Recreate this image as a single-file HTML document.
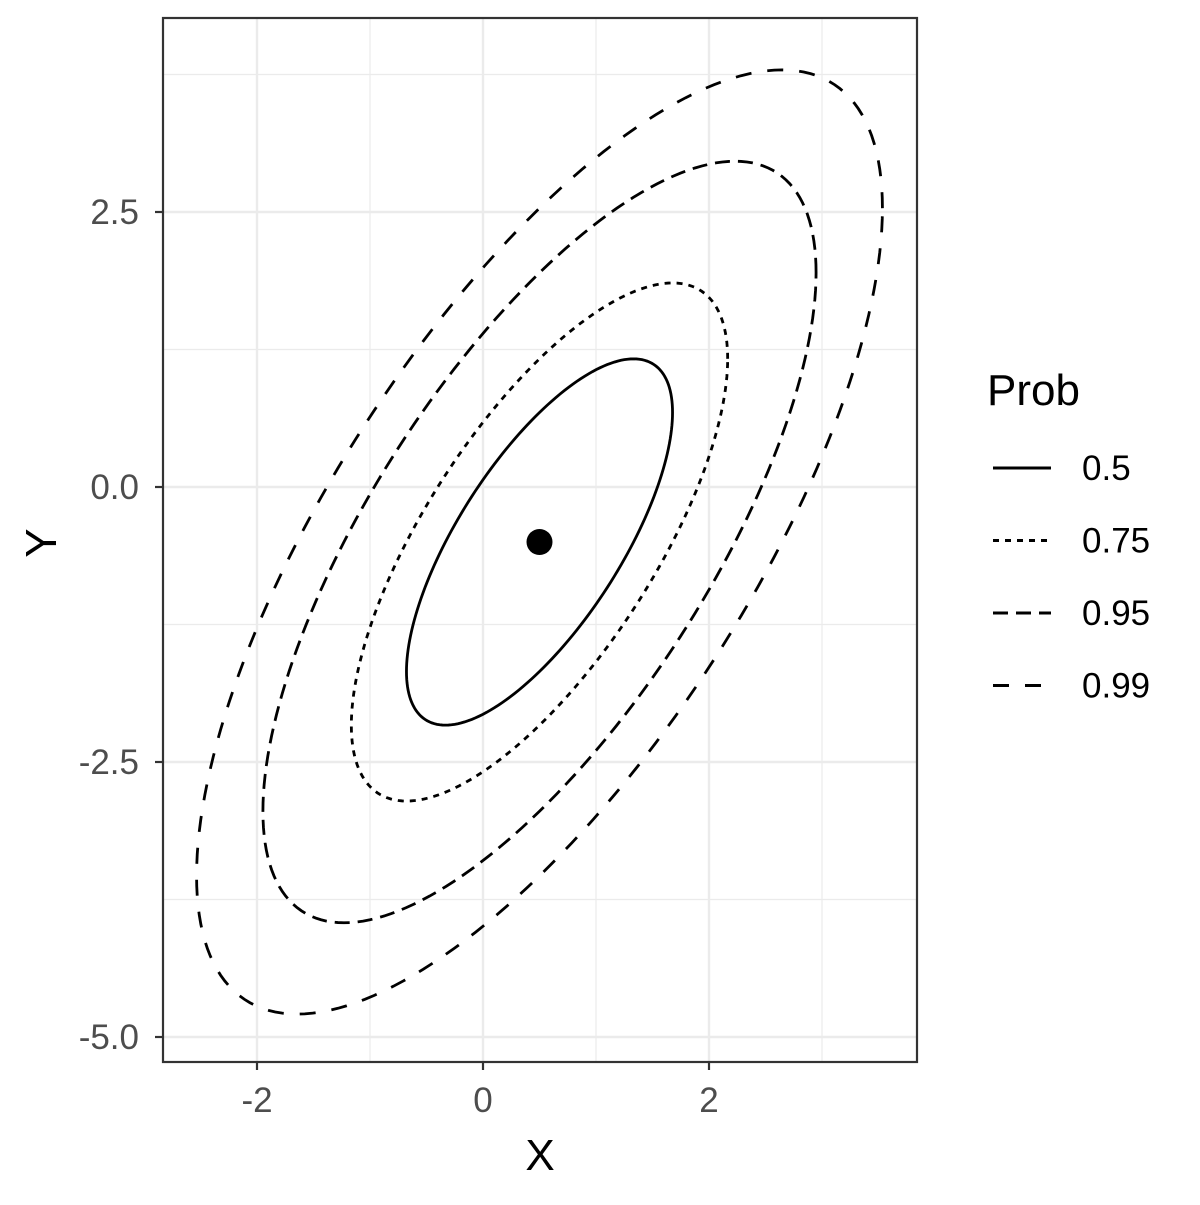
<!DOCTYPE html>
<html><head><meta charset="utf-8"><style>
body{margin:0;background:#fff}
text{font-family:"Liberation Sans",Arial,sans-serif}
</style></head><body>
<svg id="chart" width="1200" height="1200" viewBox="0 0 1200 1200" xmlns="http://www.w3.org/2000/svg">
<rect width="1200" height="1200" fill="#fff"/>
<g id="grid"></g>
<g id="marks"></g>
<rect x="163" y="18" width="754" height="1044" fill="none" stroke="#333" stroke-width="2.2"/>
<g id="axes"></g>
<text x="540" y="1170" font-size="44" text-anchor="middle">X</text>
<text x="56" y="543" font-size="44" text-anchor="middle" transform="rotate(-90 56 543)">Y</text>
<text x="987" y="405" font-size="44">Prob</text>
<g id="legend"></g>
</svg>
<script>
const levels = [0.5, 0.75, 0.95, 0.99];
const chiQuantiles = [1.386, 2.773, 5.991, 9.210];
const center = [0.5, -0.5];
const covariance = [1.0, 1.0, 2.0]; // sxx, sxy, syy
const xTicks = [-2, 0, 2];
const xMinor = [-1, 1, 3];
const yTicks = [2.5, 0, -2.5, -5];
const yMinor = [3.75, 1.25, -1.25, -3.75];
const legendLabels = ["0.5", "0.75", "0.95", "0.99"];

const dashes = ["", "6 6", "15 8", "16 16"];
const NS = "http://www.w3.org/2000/svg";
const sx = v => 483 + v * 113;
const sy = v => 487 - v * 110;
function mk(tag, attrs, parent){const e=document.createElementNS(NS,tag);for(const k in attrs)e.setAttribute(k,attrs[k]);parent.appendChild(e);return e;}
const grid = document.getElementById('grid');
xMinor.forEach(v=>{const l=mk('line',{x1:sx(v),x2:sx(v),y1:18,y2:1062,stroke:'#ebebeb','stroke-width':1.2},grid);

});
yMinor.forEach(v=>{const l=mk('line',{x1:163,x2:917,y1:sy(v),y2:sy(v),stroke:'#ebebeb','stroke-width':1.2},grid);

});
xTicks.forEach(v=>{const l=mk('line',{x1:sx(v),x2:sx(v),y1:18,y2:1062,stroke:'#ebebeb','stroke-width':2.4},grid);

});
yTicks.forEach(v=>{const l=mk('line',{x1:163,x2:917,y1:sy(v),y2:sy(v),stroke:'#ebebeb','stroke-width':2.4},grid);

});
const axes = document.getElementById('axes');
xTicks.forEach(v=>{const t=mk('line',{x1:sx(v),x2:sx(v),y1:1062,y2:1070,stroke:'#333','stroke-width':2.2},axes);


const tx=mk('text',{x:sx(v),y:1112,'font-size':35,fill:'#4d4d4d','text-anchor':'middle'},axes);tx.textContent=v;

});
yTicks.forEach(v=>{const t=mk('line',{x1:155,x2:163,y1:sy(v),y2:sy(v),stroke:'#333','stroke-width':2.2},axes);


const tx=mk('text',{x:139,y:sy(v)+12,'font-size':35,fill:'#4d4d4d','text-anchor':'end'},axes);tx.textContent=v.toFixed(1);

});
// Cholesky
const l11=Math.sqrt(covariance[0]), l21=covariance[1]/l11, l22=Math.sqrt(covariance[2]-l21*l21);
const marks = document.getElementById('marks');
levels.forEach((p,i)=>{const k=Math.sqrt(chiQuantiles[i]);let d='';
for(let j=0;j<=200;j++){const t=j/200*2*Math.PI,c=Math.cos(t),s=Math.sin(t);
const x=center[0]+k*l11*c, y=center[1]+k*(l21*c+l22*s);
d+=(j?'L':'M')+sx(x).toFixed(2)+','+sy(y).toFixed(2);}
const e=mk('path',{d:d+'Z',fill:'none',stroke:'#000','stroke-width':2.8,'stroke-dasharray':dashes[i]},marks);

});
const pt=mk('circle',{cx:sx(center[0]),cy:sy(center[1]),r:13,fill:'#000'},marks);


const lg=document.getElementById('legend');
legendLabels.forEach((lab,i)=>{const y=468+i*72.5;
const l=mk('line',{x1:993,x2:1051,y1:y,y2:y,stroke:'#000','stroke-width':3,'stroke-dasharray':dashes[i]},lg);


const t=mk('text',{x:1082,y:y+12,'font-size':35},lg);t.textContent=lab;

});
</script>
</body></html>
